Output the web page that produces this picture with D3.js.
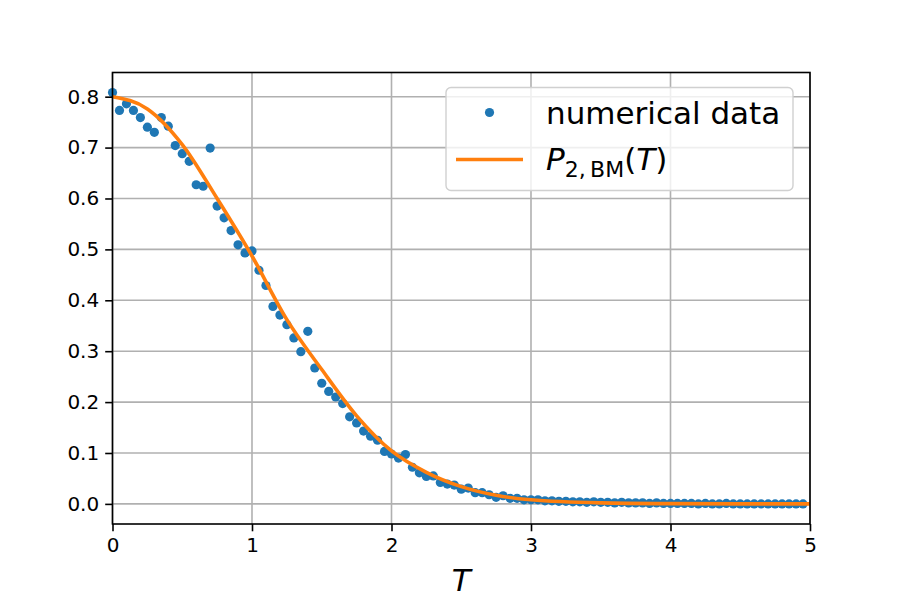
<!DOCTYPE html>
<html><head><meta charset="utf-8">
<script src="https://cdn.jsdelivr.net/npm/d3@7"></script>
<style>body{margin:0;background:#fff}svg{display:block;font-family:"DejaVu Sans",sans-serif}</style>
</head><body><svg id="c" width="900" height="600"></svg>
<script>
// Numerical data: T = 0, 0.05, ..., 4.95
const dataT = d3.range(100).map(i => +(i * 0.05).toFixed(2));
const dataP = [
  0.808,0.773,0.786,0.773,0.759,0.740,0.730,0.759,0.742,0.704,
  0.688,0.673,0.627,0.624,0.699,0.585,0.562,0.537,0.509,0.493,
  0.497,0.459,0.429,0.388,0.371,0.352,0.326,0.299,0.339,0.267,
  0.237,0.221,0.210,0.197,0.171,0.159,0.143,0.133,0.125,0.103,
  0.098,0.090,0.097,0.072,0.061,0.054,0.055,0.042,0.039,0.037,
  0.029,0.031,0.022,0.022,0.018,0.013,0.016,0.011,0.011,0.008,
  0.008,0.008,0.006,0.006,0.005,0.005,0.004,0.004,0.003,0.004,
  0.003,0.003,0.002,0.003,0.002,0.002,0.002,0.001,0.002,0.001,
  0.001,0.001,0.001,0.001,0.000,0.001,0.000,0.000,0.001,0.000,
  0.000,0.000,0.000,0.000,0.000,0.000,0.000,0.000,0.000,0.000
];
// Fitted curve P_2,BM(T)
const curveT = [0,0.25,0.5,0.75,1,1.25,1.5,1.75,2,2.25,2.5,2.75,3,3.5,4,4.5,5];
const curveP = [0.800,0.776,0.706,0.600,0.487,0.362,0.264,0.173,0.104,0.062,0.034,0.017,0.008,0.002,0.0005,0.0001,0.0];
const xTicks = [0,1,2,3,4,5];
const yTicks = [0,0.1,0.2,0.3,0.4,0.5,0.6,0.7,0.8];

const svg = d3.select("#c");
const L = 112.5, R = 810, T0 = 72.5, B = 524;
const x = d3.scaleLinear().domain([0,5]).range([L,R]);
const y = d3.scaleLinear().domain([-0.0395,0.8475]).range([B,T0]);

// grid
const g = svg.append("g");
g.selectAll(".gx").data(xTicks).join("line")
  .attr("x1",d=>x(d)).attr("x2",d=>x(d)).attr("y1",T0).attr("y2",B)
  .attr("stroke","#b0b0b0").attr("stroke-width",1.6);
g.selectAll(".gy").data(yTicks).join("line")
  .attr("x1",L).attr("x2",R).attr("y1",d=>y(d)).attr("y2",d=>y(d))
  .attr("stroke","#b0b0b0").attr("stroke-width",1.6);

// data points
svg.append("g").selectAll("circle").data(dataT.map((t,i)=>[t,dataP[i]])).join("circle")
  .attr("cx",d=>x(d[0])).attr("cy",d=>y(d[1])).attr("r",4.6).attr("fill","#1f77b4");

// curve
const line = d3.line().x(d=>x(d[0])).y(d=>y(d[1])).curve(d3.curveMonotoneX);
svg.append("path").datum(curveT.map((t,i)=>[t,curveP[i]]))
  .attr("d",line).attr("fill","none").attr("stroke","#ff7f0e").attr("stroke-width",3.6);

// axes
const xa = svg.append("g").attr("transform",`translate(0,${B})`)
  .call(d3.axisBottom(x).tickValues(xTicks).tickFormat(d3.format("d")).tickSize(7.3).tickPadding(6));
const ya = svg.append("g").attr("transform",`translate(${L},0)`)
  .call(d3.axisLeft(y).tickValues(yTicks).tickFormat(d3.format(".1f")).tickSize(7.3).tickPadding(6));
[xa,ya].forEach(a=>{
  a.select(".domain").remove();
  a.selectAll(".tick line").attr("stroke","#000").attr("stroke-width",1.6);
  a.selectAll(".tick text").attr("font-size",20).attr("fill","#000").attr("font-family","DejaVu Sans");
});
// spines
svg.append("rect").attr("x",L).attr("y",T0).attr("width",R-L).attr("height",B-T0)
  .attr("fill","none").attr("stroke","#000").attr("stroke-width",1.6);

// x label
svg.append("text").attr("x",(L+R)/2).attr("y",591).attr("text-anchor","middle")
  .attr("font-size",31).attr("font-style","italic").text("T");

// legend
const lg = svg.append("g");
lg.append("rect").attr("x",446).attr("y",87.5).attr("width",347).attr("height",103).attr("rx",5)
  .attr("fill","#fff").attr("fill-opacity",0.8).attr("stroke","#d0d0d0").attr("stroke-width",1.4);
lg.append("circle").attr("cx",489.5).attr("cy",112.5).attr("r",4.6).attr("fill","#1f77b4");
lg.append("text").attr("x",546).attr("y",123.5).attr("font-size",31).text("numerical data");
lg.append("line").attr("x1",456).attr("x2",523).attr("y1",159.5).attr("y2",159.5)
  .attr("stroke","#ff7f0e").attr("stroke-width",3.6);
const t2 = lg.append("text").attr("x",546).attr("y",170).attr("font-size",31);
t2.append("tspan").attr("font-style","italic").text("P");
t2.append("tspan").attr("font-size",22).attr("dy",7).text("2,\u2009BM");
t2.append("tspan").attr("dy",-7).text("(");
t2.append("tspan").attr("font-style","italic").text("T");
t2.append("tspan").text(")");
</script></body></html>
